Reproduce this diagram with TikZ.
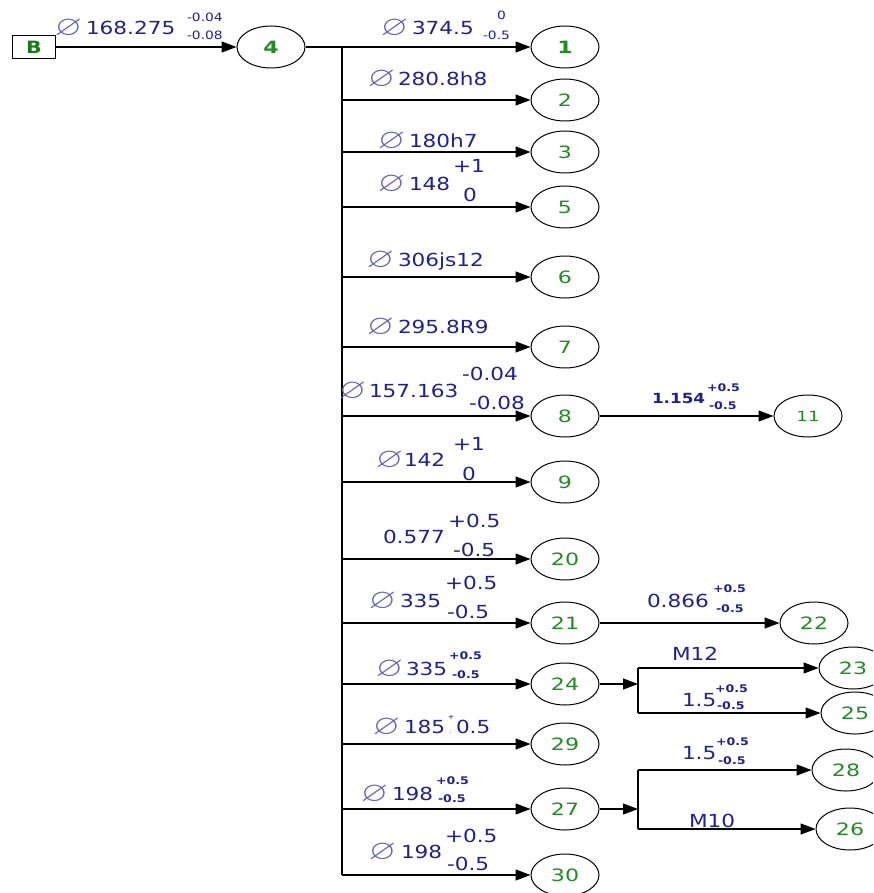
\documentclass[tikz,border=0pt]{standalone}
\usepackage{fontspec}
\usepackage{amssymb}
\usepackage{graphicx}
\usetikzlibrary{shapes.geometric,arrows.meta}
\newfontfamily\lf[FakeStretch=1.2]{DejaVu Sans}
\newfontfamily\ef[FakeStretch=1.3]{DejaVu Sans}
\definecolor{lblue}{RGB}{32,32,145}
\definecolor{lsym}{RGB}{95,95,180}
\definecolor{ngreen}{RGB}{34,139,34}
\definecolor{bgreen}{RGB}{20,125,20}
\newcommand\dsym{\scalebox{1.25}[1]{\fontsize{28}{28}\selectfont$\varnothing$}}
\begin{document}
\begin{tikzpicture}[x=1pt,y=-1pt,
  line/.style={line width=1.2pt},
  arr/.style={line width=1.2pt,-{Triangle[length=15pt,width=11pt]}},
  ell/.style={draw,ellipse,line width=1pt,minimum width=68pt,minimum height=42pt,inner sep=0pt,text=ngreen,font=\ef\fontsize{17}{17}\selectfont},
  bbox/.style={draw,line width=1.3pt,minimum width=43pt,minimum height=23pt,inner sep=0pt,text=bgreen,font=\lf\bfseries\fontsize{17}{17}\selectfont},
  txt/.style={anchor=base west,inner sep=0pt,outer sep=0pt,text=lblue,font=\lf\fontsize{18}{18}\selectfont},
  tol/.style={txt,font=\lf\fontsize{11.5}{11.5}\selectfont},
  tolb/.style={txt,font=\lf\bfseries\fontsize{10.5}{10.5}\selectfont},
  tiny/.style={txt,font=\lf\fontsize{7}{7}\selectfont},
  sym/.style={anchor=base east,inner sep=0pt,outer sep=0pt,text=lsym}]
\useasboundingbox (0,0) rectangle (873,893);
\clip (0,0) rectangle (873,893);

% source and node 4
\node[bbox] (B) at (34,47) {B};
\node[ell,font=\ef\bfseries\fontsize{17}{17}\selectfont] (n4) at (271,47) {4};
\draw[arr] (B) -- (n4);

% main column of ellipses
\node[ell,font=\ef\bfseries\fontsize{17}{17}\selectfont] (n1) at (565,47) {1};
\foreach \n/\y in {2/100,3/152,5/207,6/277,7/347,8/416,9/482,20/559,21/623,24/684,29/744,27/809,30/875}
  \node[ell] (n\n) at (565,\y) {\n};

\coordinate (top) at (342,47);
\coordinate (bot) at (342,875);
\draw[arr] (n4) -- (n1);
\draw[line] (top) -- (bot);
\foreach \n in {2,3,5,6,7,8,9,20,21,24,29,27,30}
  \draw[arr] (top |- n\n.west) -- (n\n.west);

% right side
\node[ell,font=\ef\fontsize{14}{14}\selectfont] (n11) at (808,416) {11};
\node[ell] (n22) at (814,623) {22};
\node[ell] (n23) at (853,668) {23};
\node[ell] (n25) at (855,713) {25};
\node[ell] (n28) at (846,770) {28};
\node[ell] (n26) at (850,829) {26};
\draw[arr] (n8) -- (n11);
\draw[arr] (n21) -- (n22);

\coordinate (j1) at (638,684);
\coordinate (j1a) at (638,668);
\coordinate (j1b) at (638,713);
\draw[arr] (n24) -- (j1);
\draw[line] (j1a) -- (j1b);
\draw[arr] (j1a) -- (n23);
\draw[arr] (j1b) -- (n25);

\coordinate (j2) at (638,809);
\coordinate (j2a) at (638,770);
\coordinate (j2b) at (638,829);
\draw[arr] (n27) -- (j2);
\draw[line] (j2a) -- (j2b);
\draw[arr] (j2a) -- (n28);
\draw[arr] (j2b) -- (n26);

% diameter symbols (right edge just before the number)
\foreach \n/\x/\y in {0/82/36,1/408/36,2/395/87,3/405/149,5/405/192,6/394/267,7/394/334,8/366/398,9/403/467,21/396/608,24/403/676,29/400/734,27/388/801,30/396/859}
  \node[sym] (d\n) at (\x,\y) {\dsym};

% main-size texts
\foreach \n/\x/\y/\t in {m0/86/35/168.275,m1/412/35/374.5,m2/398/86/280.8h8,m3/409/148/180h7,
  m5/409/191/148,m5a/453/173/+1,m5b/463/202/0,m6/398/266/306js12,m7/398/333/295.8R9,
  m8/369/397/157.163,m8a/462/380/-0.04,m8b/469/409/-0.08,m9/404/466/142,m9a/453/450/+1,m9b/462/480/0,
  m20/383/543/0.577,m20a/448/527/+0.5,m20b/453/556/-0.5,m21/400/607/335,m21a/445/589/+0.5,m21b/447/618/-0.5,
  m24/406/675/335,m29/404/733/185,m29c/456/733/0.5,m27/392/800/198,m30/401/858/198,m30a/445/842/+0.5,m30b/447/870/-0.5,
  m22/647/607/0.866,m23/672/660/M12,m25/682/706/1.5,m28/682/759/1.5,m26/689/827/M10}
  \node[txt] (\n) at (\x,\y) {\t};

% small regular tolerances
\foreach \n/\x/\y/\t in {s0a/187/22/-0.04,s0b/187/40/-0.08,s1a/497/20/0,s1b/483/40/-0.5}
  \node[tol] (\n) at (\x,\y) {\t};

% small bold tolerances
\foreach \n/\x/\y/\t in {b24a/449/659/+0.5,b24b/452/678/-0.5,b27a/436/784/+0.5,b27b/438/802/-0.5,
  b11a/707/391/+0.5,b11b/709/409/-0.5,b22a/713/592/+0.5,b22b/716/612/-0.5,
  b25a/715/692/+0.5,b25b/717/709/-0.5,b28a/716/745/+0.5,b28b/718/764/-0.5}
  \node[tolb] (\n) at (\x,\y) {\t};

\node[txt,font=\lf\bfseries\fontsize{14}{14}\selectfont] (m11) at (652,403) {1.154};
\node[tiny] (p29a) at (447.5,719) {+};
\node[tiny,text=lsym] (p29b) at (449,733) {.};
\end{tikzpicture}
\end{document}
